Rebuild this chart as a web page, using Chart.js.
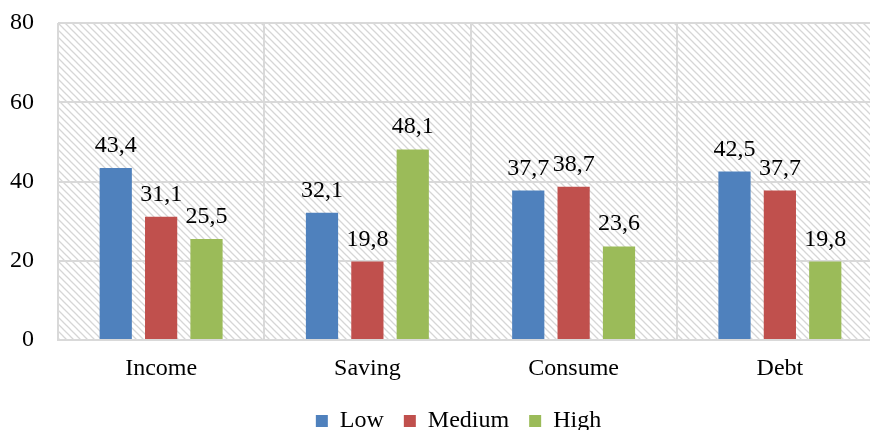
<!DOCTYPE html>
<html>
<head>
<meta charset="utf-8">
<script src="https://cdn.jsdelivr.net/npm/chart.js@4.4.0/dist/chart.umd.min.js"></script>
<style>
  html, body { margin: 0; padding: 0; background: #fff; overflow: hidden; }
  #wrap { width: 883px; height: 430px; }
</style>
</head>
<body>
<div id="wrap"><canvas id="chartArea"></canvas></div>
<script>
var categories = ['Income', 'Saving', 'Consume', 'Debt'];
var lowValues = [43.4, 32.1, 37.7, 42.5];
var mediumValues = [31.1, 19.8, 38.7, 37.7];
var highValues = [25.5, 48.1, 23.6, 19.8];
var seriesNames = ['Low', 'Medium', 'High'];
var seriesColors = ['#4f81bd', '#c0504d', '#9bbb59'];
var yTicks = [0, 20, 40, 60, 80];

var FONT = '"Liberation Serif", serif';

// diagonal hatch for the plot background
function makeHatch() {
    var c = document.createElement('canvas');
    c.width = 7; c.height = 7;
    var g = c.getContext('2d');
    g.fillStyle = '#ffffff';
    g.fillRect(0, 0, 7, 7);
    g.strokeStyle = '#d6d6d6';
    g.lineWidth = 1.3;
    g.beginPath();
    g.moveTo(-1, -1); g.lineTo(8, 8);
    g.moveTo(-8, -1); g.lineTo(1, 8);
    g.moveTo(6, -1); g.lineTo(15, 8);
    g.stroke();
    return c;
}

var hatchPlugin = {
    id: 'hatch',
    beforeDraw: function(chart) {
        var ctx = chart.ctx, a = chart.chartArea;
        ctx.save();
        ctx.fillStyle = ctx.createPattern(makeHatch(), 'repeat');
        ctx.fillRect(a.left, a.top, a.right - a.left, a.bottom - a.top);
        ctx.restore();
    }
};

// legend sits a little right of centre in the original
var legendShift = {
    id: 'legendShift',
    afterLayout: function(chart) {
        if (chart.legend) {
            chart.legend.left += 12;
            chart.legend.right += 12;
        }
    }
};

var valueLabels = {
    id: 'valueLabels',
    afterDatasetsDraw: function(chart) {
        var ctx = chart.ctx;
        ctx.save();
        ctx.font = '24px ' + FONT;
        ctx.fillStyle = '#000';
        ctx.textAlign = 'center';
        ctx.textBaseline = 'alphabetic';
        chart.data.datasets.forEach(function(ds, i) {
            chart.getDatasetMeta(i).data.forEach(function(bar, j) {
                var txt = ds.data[j].toFixed(1).replace('.', ',');
                ctx.fillText(txt, bar.x, bar.y - 16);
            });
        });
        ctx.restore();
    }
};

var config = {
    type: 'bar',
    data: {
        labels: categories,
        datasets: [
            { label: seriesNames[0], data: lowValues, backgroundColor: seriesColors[0] },
            { label: seriesNames[1], data: mediumValues, backgroundColor: seriesColors[1] },
            { label: seriesNames[2], data: highValues, backgroundColor: seriesColors[2] }
        ]
    },
    options: {
        responsive: true,
        maintainAspectRatio: false,
        animation: false,
        layout: { padding: { top: 23, right: 0, left: 10, bottom: -13 } },
        datasets: { bar: { categoryPercentage: 0.66, barPercentage: 0.71, borderWidth: 0 } },
        plugins: {
            legend: {
                position: 'bottom',
                labels: {
                    font: { family: FONT, size: 24 },
                    color: '#000',
                    boxWidth: 12,
                    boxHeight: 12,
                    padding: 20
                }
            },
            tooltip: { enabled: false }
        },
        scales: {
            x: {
                grid: { color: '#d9d9d9', lineWidth: 2, drawTicks: false },
                border: { color: '#d9d9d9', width: 2 },
                ticks: { font: { family: FONT, size: 24 }, color: '#000', padding: 14 },
                afterFit: function(s) {
                    s.paddingLeft = 0;
                    s.paddingRight = 0;
                    s.height = 49;
                }
            },
            y: {
                min: 0, max: 80,
                afterBuildTicks: function(axis) {
                    axis.ticks = yTicks.map(function(v) { return { value: v }; });
                },
                grid: { color: '#d9d9d9', lineWidth: 2, drawTicks: false },
                border: { display: false },
                ticks: { font: { family: FONT, size: 24 }, color: '#000', padding: 24 },
                afterFit: function(s) {
                    s.paddingTop = 0;
                    s.paddingBottom = 0;
                    s.width = 48;
                }
            }
        }
    },
    plugins: [hatchPlugin, valueLabels, legendShift]
};

var ctx = document.getElementById('chartArea').getContext('2d');
window.myBar = new Chart(ctx, config);
</script>
</body>
</html>
